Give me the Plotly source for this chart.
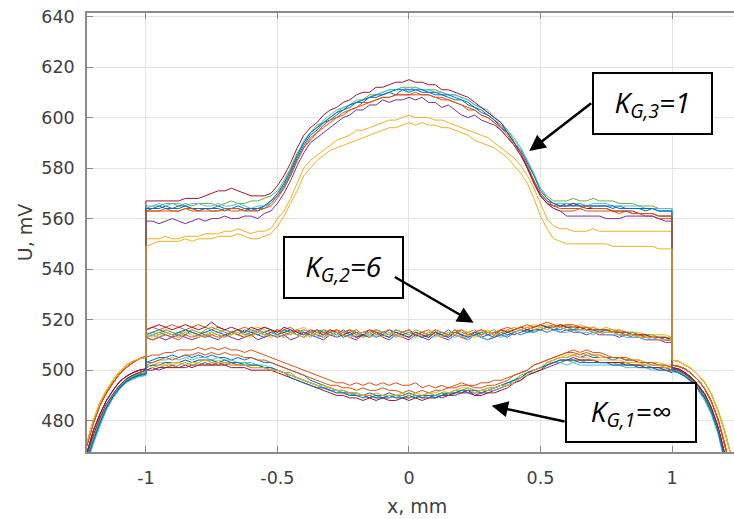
import numpy as np
import plotly.graph_objects as go

# ---------------- data ----------------
# sample positions, mm
X_LEFT = [-1.225, -1.2, -1.175, -1.15, -1.125, -1.1, -1.075, -1.05, -1.025, -1.0]
X_INSIDE = [round(-1.0 + 0.025 * i, 3) for i in range(81)]
X_RIGHT = [1.0, 1.025, 1.05, 1.075, 1.1, 1.125, 1.15, 1.175, 1.2, 1.225]

# outside part of each measurement (same per colour), mV
OUT_LEFT_BLUE = [464, 472, 479, 485, 489.5, 493, 495.5, 497, 498, 498.5]
OUT_LEFT_ORANGE = [470, 479, 486, 491, 495, 498.5, 501, 503, 504.5, 505.5]
OUT_LEFT_YELLOW = [471, 480, 487, 492, 496, 499.5, 502, 503.5, 504.5, 505]
OUT_LEFT_PURPLE = [466, 474, 481, 486.5, 490.5, 494, 496.5, 498, 499, 500]
OUT_LEFT_GREEN = [465, 473, 480, 486, 490, 493.5, 496, 497.5, 498.5, 499]
OUT_LEFT_CYAN = [463, 471, 478, 484.5, 489, 492.5, 495, 496.5, 497.5, 498]
OUT_LEFT_DARKRED = [467, 476, 482.5, 488, 492, 495.5, 497.5, 499, 500, 500.5]

OUT_RIGHT_BLUE = [500, 499, 497.5, 495.5, 492.5, 489, 483.5, 476, 465, 455]
OUT_RIGHT_ORANGE = [502, 501.5, 500.5, 498.5, 496, 492.5, 487.5, 480.5, 471, 460]
OUT_RIGHT_YELLOW = [504, 503.5, 502, 500.5, 498, 495, 490.5, 484, 476, 466]
OUT_RIGHT_PURPLE = [500.5, 500, 498.5, 496.5, 493.5, 489.5, 484, 476.5, 466, 456]
OUT_RIGHT_GREEN = [500, 499.5, 498, 496, 493, 489.5, 484, 476.5, 466, 456]
OUT_RIGHT_CYAN = [499.5, 499, 497.5, 495, 492, 488, 482.5, 475, 464, 454]
OUT_RIGHT_DARKRED = [501, 500.5, 499, 497, 494, 490.5, 485, 477.5, 467, 457]

# ---- K_G,3 = 1 (upper group), inside -1..1 ----
K3_BLUE_A = [563,564,564,565,564,564,565,564,563,564,
             564,565,564,564,565,564,564,563,565,567,
             569,573,578,584,589,593,595,598,599,601,
             603,604,606,606,608,608,609,610,609,611,
             610,611,610,610,609,609,608,607,607,605,
             604,602,601,599,596,594,590,586,581,575,
             570,567,566,565,566,565,566,565,565,565,
             565,564,565,564,564,564,563,564,563,563,
             563]
K3_ORANGE_A = [563,563,563,564,563,563,564,563,563,564,
               563,563,564,563,563,564,563,564,564,565,
               568,572,577,583,588,591,594,596,598,600,
               601,603,604,606,606,607,608,608,609,609,
               609,610,609,609,608,608,607,606,605,604,
               603,601,600,598,595,592,589,585,580,575,
               569,566,564,563,563,563,564,563,563,563,
               563,563,562,563,562,562,561,561,560,560,
               560]
K3_YELLOW_A = [552,552,552,553,552,552,553,553,553,554,
               554,554,555,555,556,555,554,555,555,556,
               560,563,568,574,580,583,585,587,589,591,
               592,593,595,595,596,597,598,599,599,600,
               601,600,600,600,599,599,598,597,596,595,
               594,593,592,590,588,586,584,581,577,572,
               566,560,557,556,556,555,555,555,556,555,
               555,555,555,555,555,555,555,555,555,555,
               555]
K3_PURPLE = [559,559,558,559,560,559,558,559,560,559,
             560,560,561,560,560,561,561,560,562,563,
             566,570,575,581,586,590,592,594,596,598,
             600,601,603,603,605,605,607,606,607,607,
             608,607,608,606,606,604,605,603,601,600,
             601,599,598,597,595,592,589,585,580,574,
             569,566,564,563,561,561,561,561,561,561,
             560,560,560,561,561,561,561,561,560,559,
             559]
K3_GREEN = [564,565,565,566,566,565,566,565,566,566,
            566,565,566,567,566,566,567,567,568,569,
            571,575,580,586,590,594,597,598,600,602,
            604,605,606,607,609,609,610,611,611,612,
            612,612,611,611,611,610,609,609,608,607,
            605,604,602,600,598,595,591,588,583,577,
            572,569,567,567,567,568,567,567,568,567,
            567,567,566,566,566,565,565,565,564,564,
            564]
K3_CYAN = [565,565,566,565,566,566,565,566,566,565,
           565,566,565,565,566,565,564,565,565,566,
           569,574,579,585,591,594,596,599,601,603,
           604,605,607,607,608,609,610,611,611,612,
           611,612,611,611,610,610,609,609,608,607,
           605,604,603,600,598,595,592,588,583,578,
           572,568,566,566,566,566,566,565,566,566,
           566,565,565,565,565,565,564,564,564,564,
           564]
K3_DARKRED = [567,567,567,567,567,567,568,568,568,569,
              570,571,571,572,571,570,569,569,569,570,
              573,577,582,588,593,596,598,601,603,604,
              606,607,609,610,610,612,612,613,614,614,
              615,614,614,613,613,611,611,610,609,608,
              606,604,602,600,598,594,590,586,580,574,
              569,566,565,565,565,566,565,564,564,564,
              564,563,563,563,563,562,562,562,561,561,
              561]
K3_BLUE_B = [564,564,565,564,564,565,565,564,564,564,
             564,564,563,564,564,563,564,564,565,567,
             570,574,579,585,590,594,596,598,600,602,
             603,605,606,607,608,609,609,610,611,611,
             611,611,611,610,610,609,609,608,607,606,
             604,603,601,599,597,594,590,587,582,577,
             571,568,566,565,565,565,565,565,565,565,
             565,565,564,564,564,564,564,564,563,563,
             563]
K3_ORANGE_B = [563,563,563,563,563,563,564,564,563,563,
               563,563,564,564,564,563,563,563,564,566,
               569,572,577,583,588,592,594,597,599,600,
               602,603,604,605,606,607,608,608,609,609,
               609,609,609,609,608,607,607,606,605,603,
               603,601,600,598,596,593,589,586,581,575,
               570,567,565,564,564,564,564,565,564,564,
               564,563,563,563,562,562,562,562,561,561,
               561]
K3_YELLOW_B = [549,550,551,551,551,551,552,551,552,552,
               552,553,553,553,554,553,552,552,553,554,
               557,561,566,571,577,580,583,585,587,588,
               589,590,591,592,593,594,595,596,596,597,
               598,597,598,597,597,596,596,595,594,593,
               591,590,589,588,586,584,581,578,574,568,
               561,556,552,551,550,550,550,550,550,550,
               550,549,549,549,549,549,549,549,548,548,
               548]

# ---- K_G,2 = 6 (middle group) ----
K2_BLUE_A = [513,514,515,514,513,515,514,516,515,514,
             515,514,513,515,516,514,515,514,513,515,
             514,516,515,514,513,515,514,513,515,514,
             516,514,513,514,515,513,514,516,515,514,
             513,515,514,513,515,514,516,514,513,514,
             515,513,514,515,514,513,515,514,515,516,
             516,517,516,517,516,516,517,516,516,515,
             516,515,515,514,515,514,514,513,513,513,
             512]
K2_ORANGE_A = [516,517,516,517,518,517,516,517,518,517,
               516,517,516,515,516,517,516,515,517,516,
               515,516,517,515,516,515,514,516,515,516,
               514,515,516,514,515,516,515,514,516,515,
               516,514,515,516,514,515,514,516,515,514,
               515,516,514,515,516,515,516,517,516,517,
               518,517,518,517,518,517,517,516,517,516,
               516,515,516,515,514,514,513,513,512,512,
               512]
K2_YELLOW_A = [515,514,515,516,515,514,515,516,515,515,
               514,515,516,515,514,515,516,517,516,515,
               516,515,514,516,517,515,514,515,516,514,
               515,516,514,513,515,516,514,515,513,514,
               515,514,513,515,516,514,515,514,516,515,
               514,515,516,514,515,516,517,516,517,518,
               517,518,517,518,518,517,518,517,517,516,
               517,516,516,515,515,515,514,514,514,514,
               513]
K2_PURPLE = [513,512,513,512,513,514,513,512,513,514,
             513,512,514,513,512,513,514,512,513,514,
             513,514,512,513,515,514,513,512,514,513,
             514,513,512,514,513,515,513,512,514,513,
             512,514,513,512,514,513,512,514,513,512,
             514,513,512,513,514,515,514,515,516,515,
             516,515,516,515,516,515,515,514,515,514,
             514,514,513,514,513,513,512,512,512,511,
             511]
K2_GREEN = [514,515,514,516,515,514,516,515,514,516,
            517,516,515,514,516,515,514,516,515,514,
            516,515,514,516,515,513,515,516,514,515,
            514,516,515,513,514,516,515,514,516,515,
            514,516,515,514,515,513,514,516,514,515,
            516,514,515,516,514,516,515,516,517,516,
            517,516,517,518,517,517,516,517,516,516,
            516,516,515,515,515,514,514,514,513,513,
            513]
K2_CYAN = [513,514,513,515,514,513,514,515,514,513,
           515,514,516,515,514,513,515,516,514,515,
           514,513,515,514,516,515,513,514,515,513,
           515,514,513,515,514,513,515,514,513,515,
           514,513,515,514,513,515,514,513,514,512,
           514,513,512,514,513,514,515,514,515,515,
           516,515,516,515,515,516,515,515,514,515,
           514,514,514,513,513,513,512,513,512,512,
           512]
K2_DARKRED = [516,517,518,517,516,517,518,517,516,517,
              519,517,516,517,516,515,517,516,517,516,
              515,517,516,515,514,516,515,514,516,515,
              514,515,513,514,516,515,514,513,515,514,
              513,515,514,513,515,514,513,515,514,513,
              515,514,515,514,516,515,516,517,516,517,
              518,517,517,518,517,517,517,516,516,516,
              516,515,515,515,514,514,514,513,513,513,
              512]
K2_BLUE_B = [514,515,516,515,514,515,516,515,514,515,
             516,515,514,515,514,516,515,514,515,516,
             514,515,516,514,515,514,516,515,514,515,
             513,514,515,514,513,515,514,513,515,514,
             515,514,513,514,515,514,513,515,514,513,
             514,515,514,513,515,514,515,516,515,516,
             516,517,516,516,517,516,516,516,515,515,
             515,515,514,514,514,513,513,513,513,512,
             512]
K2_ORANGE_B = [513,512,513,514,513,512,514,513,514,513,
               514,513,514,515,514,513,514,515,514,515,
               516,514,515,516,514,515,516,514,515,516,
               515,516,514,515,516,514,515,516,514,515,
               516,514,515,514,516,515,514,515,516,514,
               515,516,515,514,516,517,516,517,518,517,
               518,519,518,517,518,518,517,517,516,516,
               516,515,515,515,514,514,513,513,513,512,
               512]
K2_YELLOW_B = [514,513,514,515,514,513,515,514,513,514,
               515,514,513,514,515,514,513,515,514,513,
               514,513,515,514,513,514,515,513,514,515,
               514,513,514,515,513,514,513,515,514,513,
               515,513,514,515,514,513,515,514,513,514,
               513,514,515,514,515,516,515,516,517,516,
               517,516,517,517,516,517,516,516,515,515,
               515,515,514,514,514,513,513,513,512,512,
               512]

# ---- K_G,1 = infinity (lower group) ----
K1_BLUE_A = [503,504,505,505,506,505,506,505,506,505,
             506,505,505,504,505,504,505,504,503,503,
             502,501,500,499,498,496,495,494,493,492,
             492,491,491,490,491,490,490,491,490,490,
             491,490,489,490,490,491,490,491,492,491,
             491,492,492,493,494,494,496,497,499,500,
             501,503,504,505,505,506,505,506,505,505,
             505,504,505,504,504,503,503,502,502,501,
             500]
K1_ORANGE_A = [505,506,506,507,507,508,508,508,509,508,
               509,508,509,508,508,507,508,507,506,505,
               504,503,502,501,500,499,498,497,496,495,
               495,494,495,494,495,494,495,494,495,494,
               494,495,493,494,493,494,493,494,495,494,
               494,495,495,496,496,497,498,499,500,502,
               503,504,505,506,507,508,507,508,507,507,
               506,505,505,505,504,504,503,503,502,502,
               501]
K1_YELLOW_A = [502,502,503,503,502,503,504,503,504,504,
               503,504,503,503,502,503,502,502,501,501,
               500,499,498,497,496,495,494,493,492,491,
               491,490,491,490,489,490,489,490,489,490,
               489,490,489,490,489,490,491,490,491,492,
               491,491,492,492,493,495,496,497,498,500,
               501,502,504,505,506,506,507,506,506,505,
               505,505,505,504,504,504,503,503,503,502,
               502]
K1_PURPLE = [500,501,500,501,502,501,501,502,502,503,
             502,503,502,503,502,502,501,501,501,500,
             500,499,498,497,496,495,494,493,492,492,
             491,491,490,490,489,490,489,489,490,489,
             489,490,489,489,490,489,490,490,491,491,
             490,491,491,492,493,494,495,496,498,499,
             500,501,502,503,504,504,504,504,504,503,
             503,503,503,503,502,502,502,501,501,501,
             500]
K1_GREEN = [501,502,501,502,501,502,503,502,503,502,
            503,502,503,502,502,503,502,502,501,501,
            500,499,499,497,496,495,494,493,493,492,
            491,491,490,490,490,489,490,489,490,490,
            489,490,490,491,490,491,491,492,492,493,
            492,492,493,493,494,495,496,498,499,500,
            501,502,503,503,504,503,504,503,503,503,
            503,503,502,503,502,502,502,501,501,501,
            500]
K1_CYAN = [502,503,504,504,505,504,505,504,505,505,
           504,505,504,504,503,503,503,502,502,501,
           500,499,498,497,496,495,494,493,492,492,
           491,490,491,490,490,489,490,489,490,489,
           490,489,490,489,490,490,491,490,491,492,
           491,491,492,492,493,494,496,497,498,500,
           501,502,503,503,502,503,502,502,502,502,
           502,502,502,501,501,501,501,500,500,500,
           499]
K1_DARKRED = [500,500,501,501,501,501,502,501,502,502,
              502,502,502,501,501,501,500,500,500,500,
              499,498,497,496,495,494,493,492,491,490,
              490,489,489,488,489,488,489,488,488,489,
              488,489,488,489,489,490,490,491,491,492,
              490,490,491,491,492,493,495,496,498,499,
              500,502,503,504,504,505,504,504,504,503,
              503,503,503,502,502,502,501,501,501,500,
              500]
K1_BLUE_B = [501,502,502,503,503,503,504,503,504,504,
             504,503,504,503,503,502,502,502,501,501,
             500,499,497,496,495,494,493,493,492,491,
             491,490,490,489,490,489,489,490,489,489,
             490,489,490,490,489,490,491,491,492,492,
             492,491,492,493,494,495,496,497,499,500,
             501,502,503,504,504,504,503,503,503,503,
             503,502,502,502,502,501,501,501,500,500,
             499]
K1_ORANGE_B = [503,503,504,505,504,505,506,506,507,506,
               507,506,507,506,506,505,505,504,504,503,
               502,501,500,499,498,497,496,495,494,494,
               493,493,492,493,492,492,493,492,492,491,
               492,491,492,491,492,492,493,493,494,494,
               493,493,494,494,495,496,498,499,500,502,
               503,504,505,506,507,507,506,507,506,506,
               505,505,505,504,504,503,503,503,502,502,
               501]
K1_YELLOW_B = [502,501,502,502,503,503,502,503,503,504,
               503,503,503,502,502,502,501,501,501,500,
               500,499,498,497,496,495,494,494,493,492,
               492,491,491,490,490,491,490,490,490,491,
               490,491,490,491,491,492,491,492,493,493,
               491,492,492,493,494,494,495,497,498,500,
               501,503,504,505,505,506,505,505,504,504,
               504,504,504,503,503,503,502,502,502,501,
               501]

Y_TICKS = [480, 500, 520, 540, 560, 580, 600, 620, 640]
X_TICKS = [-1, -0.5, 0, 0.5, 1]
X_TICK_TEXT = ["-1", "-0.5", "0", "0.5", "1"]
LABEL_K3 = "<i>K<sub>G,3</sub>=1</i>"
LABEL_K2 = "<i>K<sub>G,2</sub>=6</i>"
LABEL_K1 = "<i>K<sub>G,1</sub>=∞</i>"

# ---------------- styling ----------------
COLORS = {
    "blue": "#0072BD", "orange": "#D95319", "yellow": "#EDB120",
    "purple": "#7E2F8E", "green": "#77AC30", "cyan": "#4DBEEE",
    "darkred": "#A2142F",
}
OUT_LEFT = {"blue": OUT_LEFT_BLUE, "orange": OUT_LEFT_ORANGE, "yellow": OUT_LEFT_YELLOW,
            "purple": OUT_LEFT_PURPLE, "green": OUT_LEFT_GREEN, "cyan": OUT_LEFT_CYAN,
            "darkred": OUT_LEFT_DARKRED}
OUT_RIGHT = {"blue": OUT_RIGHT_BLUE, "orange": OUT_RIGHT_ORANGE, "yellow": OUT_RIGHT_YELLOW,
             "purple": OUT_RIGHT_PURPLE, "green": OUT_RIGHT_GREEN, "cyan": OUT_RIGHT_CYAN,
             "darkred": OUT_RIGHT_DARKRED}

GROUPS = [
    [("blue", K1_BLUE_A), ("orange", K1_ORANGE_A), ("yellow", K1_YELLOW_A), ("purple", K1_PURPLE),
     ("green", K1_GREEN), ("cyan", K1_CYAN), ("darkred", K1_DARKRED), ("blue", K1_BLUE_B),
     ("orange", K1_ORANGE_B), ("yellow", K1_YELLOW_B)],
    [("blue", K2_BLUE_A), ("orange", K2_ORANGE_A), ("yellow", K2_YELLOW_A), ("purple", K2_PURPLE),
     ("green", K2_GREEN), ("cyan", K2_CYAN), ("darkred", K2_DARKRED), ("blue", K2_BLUE_B),
     ("orange", K2_ORANGE_B), ("yellow", K2_YELLOW_B)],
    [("blue", K3_BLUE_A), ("orange", K3_ORANGE_A), ("yellow", K3_YELLOW_A), ("purple", K3_PURPLE),
     ("green", K3_GREEN), ("cyan", K3_CYAN), ("darkred", K3_DARKRED), ("blue", K3_BLUE_B),
     ("orange", K3_ORANGE_B), ("yellow", K3_YELLOW_B)],
]

W, H = 734, 519
PL, PR, PT, PB = 87, 734, 12.5, 452
XR = [-1.224, 1.2357]
YR = [467.6, 641.4]


def px2x(px):
    return XR[0] + (px - PL) * (XR[1] - XR[0]) / (PR - PL)


def py2y(py):
    return YR[1] - (py - PT) * (YR[1] - YR[0]) / (PB - PT)


def px2paper(px):
    return (px - PL) / (PR - PL)


def py2paper(py):
    return (PB - py) / (PB - PT)


fig = go.Figure()
for group in GROUPS:
    for cname, vals in group:
        n = len(vals)
        xin = list(np.linspace(-1.0, 1.0, n)) if n != len(X_INSIDE) else X_INSIDE
        xs = X_LEFT + xin + X_RIGHT
        ys = OUT_LEFT[cname] + vals + OUT_RIGHT[cname]
        fig.add_trace(go.Scatter(x=xs, y=ys, mode="lines",
                                 line=dict(color=COLORS[cname], width=1),
                                 showlegend=False, hoverinfo="skip"))

AX_COL = "#8a8a8a"
TICK_FONT = dict(family="DejaVu Sans", size=17.5, color="#404040")
fig.update_xaxes(range=XR, tickvals=X_TICKS, ticktext=X_TICK_TEXT, showgrid=True,
                 gridcolor="#e4e4e4", gridwidth=1, zeroline=False, showline=True,
                 linecolor=AX_COL, linewidth=1.5, mirror="ticks", ticks="inside",
                 ticklen=6, tickwidth=1.2, tickcolor=AX_COL, tickfont=TICK_FONT,
                 ticklabelstandoff=9, automargin=False)
fig.update_yaxes(range=YR, tickvals=Y_TICKS, showgrid=True, gridcolor="#e4e4e4",
                 gridwidth=1, zeroline=False, showline=True, linecolor=AX_COL,
                 linewidth=1.5, ticks="inside", ticklen=6, tickwidth=1.2,
                 tickcolor=AX_COL, tickfont=TICK_FONT, ticklabelstandoff=7,
                 automargin=False)

BOX_FONT = dict(family="Open Sans", size=28, color="black")
annotations = []
for label, cx, cy, bw, bh in [(LABEL_K3, 652.2, 103.2, 117, 59),
                              (LABEL_K2, 343.8, 267.7, 117, 59),
                              (LABEL_K1, 631.3, 412.0, 128, 57)]:
    annotations.append(dict(x=px2x(cx), y=py2y(cy), xref="x", yref="y", text=label,
                            showarrow=False, font=BOX_FONT, bgcolor="white",
                            bordercolor="black", borderwidth=2, borderpad=0,
                            width=bw, height=bh, xanchor="center", yanchor="middle",
                            align="center", valign="middle"))
for tx, ty, sx, sy in [(529.3, 150.7, 592.7, 101.7),
                       (473.6, 322.5, 393.3, 276.0),
                       (491.7, 405.7, 566.0, 421.7)]:
    annotations.append(dict(x=px2x(tx), y=py2y(ty), xref="x", yref="y", text="",
                            showarrow=True, ax=sx - tx, ay=sy - ty, arrowhead=2,
                            arrowsize=1.3, arrowwidth=2.5, arrowcolor="black",
                            standoff=0, startstandoff=0))
annotations.append(dict(x=px2paper(25), y=py2paper(232), xref="paper", yref="paper",
                        text="U, mV", showarrow=False, textangle=-90,
                        font=dict(family="DejaVu Sans", size=19, color="#404040"),
                        xanchor="center", yanchor="middle"))
annotations.append(dict(x=px2paper(416.7), y=py2paper(506.5), xref="paper", yref="paper",
                        text="x, mm", showarrow=False,
                        font=dict(family="DejaVu Sans", size=19, color="#404040"),
                        xanchor="center", yanchor="middle"))

fig.update_layout(width=W, height=H, margin=dict(l=PL, r=W - PR, t=PT, b=H - PB),
                  paper_bgcolor="white", plot_bgcolor="white",
                  annotations=annotations, showlegend=False)

fig.write_html("out.html", config={"displayModeBar": False},
               post_script="document.body.style.margin='0';document.body.style.padding='0';"
                           "document.documentElement.style.margin='0';")
